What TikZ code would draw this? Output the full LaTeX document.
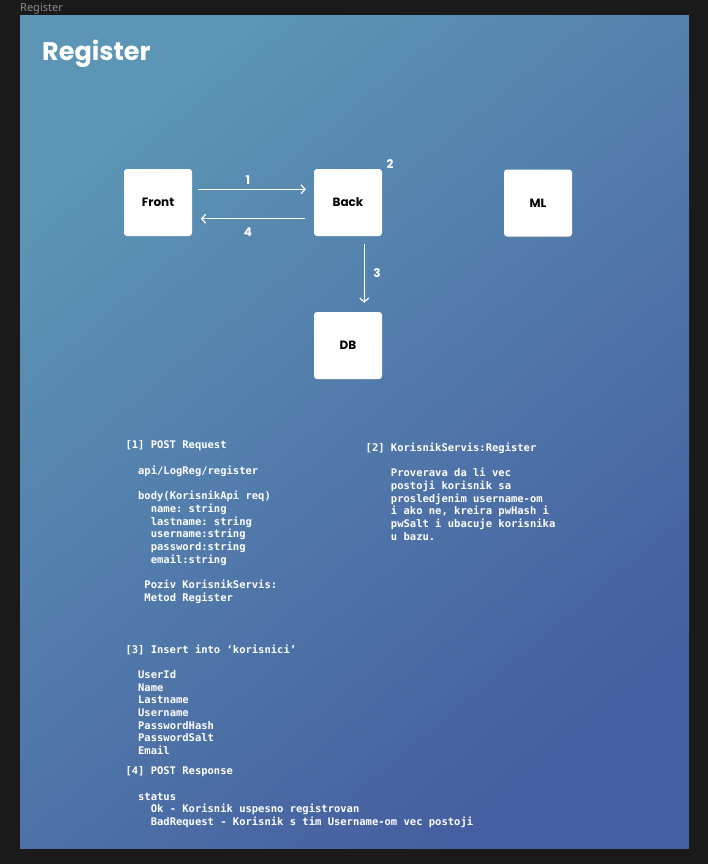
\documentclass[tikz,border=0pt]{standalone}
\usepackage{fontspec}
\setmainfont{Poppins}
\newfontfamily\monof{DejaVu Sans Mono}
\newfontfamily\uif{Noto Sans}
\usetikzlibrary{arrows.meta,shadows}
\definecolor{bgdark}{HTML}{1A1A1A}
\definecolor{gradA}{HTML}{5C95B6}
\definecolor{gradB}{HTML}{455E9F}
\definecolor{framelbl}{HTML}{8A8A8A}
\begin{document}
\begin{tikzpicture}[x=1pt,y=-1pt,
  box/.style={fill=white, rounded corners=3pt, minimum width=68pt, minimum height=67pt,
    inner sep=0pt, text=black, font=\bfseries\fontsize{12}{14}\selectfont,
    drop shadow={opacity=0.22, shadow xshift=0pt, shadow yshift=-1.2pt}},
  conn/.style={draw=white, line width=1.2pt, -{Straight Barb[length=4pt,width=9pt]}},
  num/.style={text=white, inner sep=0pt, font=\bfseries\fontsize{12}{14}\selectfont},
  mono/.style={text=white, inner sep=0pt, anchor=north west, align=left,
    font=\monof\bfseries\frenchspacing\fontsize{10.5}{12.7}\selectfont},
]
\fill[bgdark] (0,0) rectangle (708,864);
\useasboundingbox (0,0) rectangle (708,864);
\shade[top color=gradA, bottom color=gradB, shading angle=40] (20,16) rectangle (689,848);

\node[anchor=base west, inner sep=0pt, text=framelbl, font=\uif\fontsize{11}{13}\selectfont] (framelabel) at (20,12) {Register};
\node[anchor=base west, inner sep=0pt, text=white, font=\bfseries\fontsize{25.5}{30}\selectfont] (title) at (42,60.5) {Register};

\node[box] (front) at (158,202.5) {Front};
\node[box] (back) at (348,202.5) {Back};
\node[box] (ml) at (538,203) {ML};
\node[box] (db) at (348,345.5) {DB};

\draw[conn] ([xshift=5.3pt,yshift=13.2pt]front.east) -- ([xshift=-8pt,yshift=13.2pt]back.west);
\draw[conn] ([xshift=-9pt,yshift=-16.2pt]back.west) -- ([xshift=8.7pt,yshift=-16.2pt]front.east);
\draw[conn] ([xshift=16.3pt,yshift=-8pt]back.south) -- ([xshift=16.3pt,yshift=9pt]db.north);

\node[num] (n1) at (248,180) {1};
\node[num] (n4) at (248,232) {4};
\node[num] (n2) at (390,164) {2};
\node[num] (n3) at (377,273) {3};

\node[mono] (req) at (125.3,440.8) {[1] POST Request\\[12.7pt]
~~api/LogReg/register\\[12.7pt]
~~body(KorisnikApi req)\\
~~~~name: string\\
~~~~lastname: string\\
~~~~username:string\\
~~~~password:string\\
~~~~email:string\\[12.7pt]
~~~Poziv KorisnikServis:\\
~~~Metod Register};

\node[mono] (srv) at (365.5,442.5) {[2] KorisnikServis:Register\\[12.7pt]
~~~~Proverava da li vec\\
~~~~postoji korisnik sa\\
~~~~prosledjenim username-om\\
~~~~i ako ne, kreira pwHash i\\
~~~~pwSalt i ubacuje korisnika\\
~~~~u bazu.};

\node[mono] (ins) at (125.3,644.3) {[3] Insert into ‘korisnici’\\[12.7pt]
~~UserId\\
~~Name\\
~~Lastname\\
~~Username\\
~~PasswordHash\\
~~PasswordSalt\\
~~Email};

\node[mono] (resp) at (125.3,766.5) {[4] POST Response\\[12.7pt]
~~status\\
~~~~Ok - Korisnik uspesno registrovan\\
~~~~BadRequest - Korisnik s tim Username-om vec postoji};
\end{tikzpicture}
\end{document}
